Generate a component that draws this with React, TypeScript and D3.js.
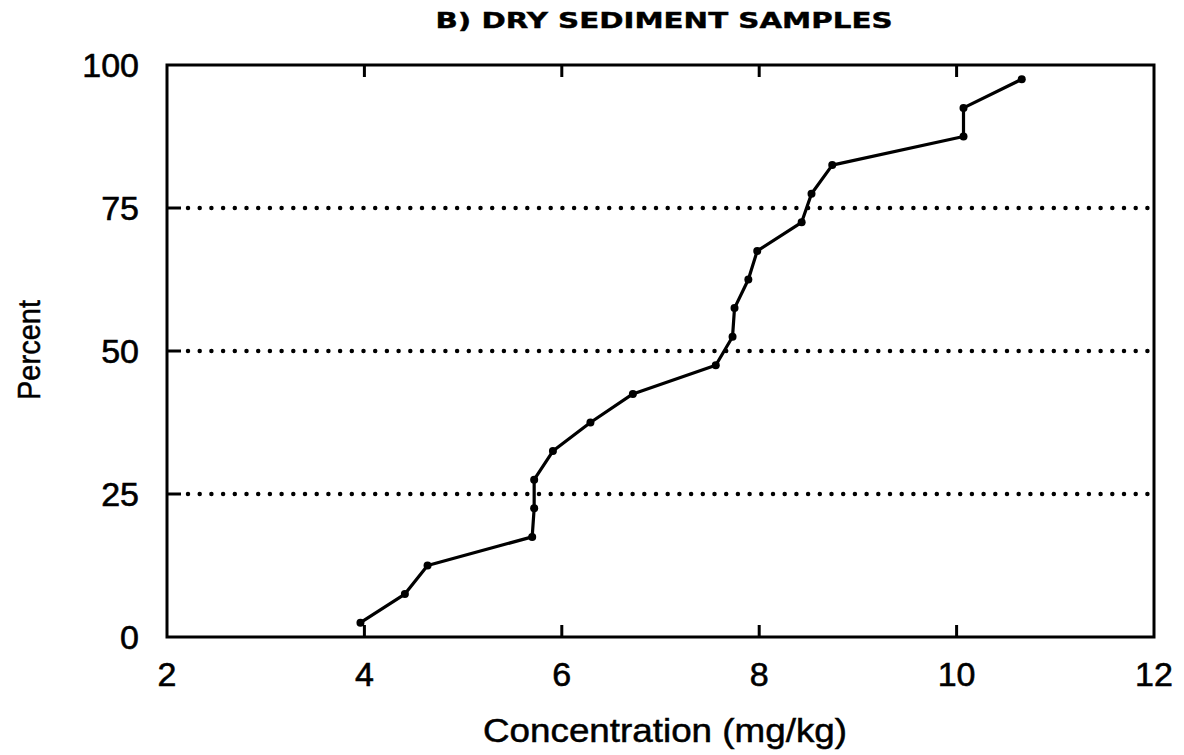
import React from "react";
import * as d3 from "d3";

const concentration = [3.96, 4.41, 4.64, 5.70, 5.72, 5.72, 5.91, 6.29, 6.72, 7.56, 7.73, 7.75, 7.89, 7.98, 8.43, 8.53, 8.74, 10.07, 10.07, 10.66];
const percent = [2.5, 7.5, 12.5, 17.5, 22.5, 27.5, 32.5, 37.5, 42.5, 47.5, 52.5, 57.5, 62.5, 67.5, 72.5, 77.5, 82.5, 87.5, 92.5, 97.5];
const xTicks = [2, 4, 6, 8, 10, 12];
const yTicks = [0, 25, 50, 75, 100];
const gridValues = [25, 50, 75];

const W = 1184, H = 755;
const L = 167, R = 1154, T = 65, B = 637;

export default function App() {
  const x = d3.scaleLinear().domain([2, 12]).range([L, R]);
  const y = d3.scaleLinear().domain([0, 100]).range([B, T]);
  const pts = concentration.map((c, i) => [c, percent[i]] as [number, number]);
  const line = d3.line<[number, number]>().x(d => x(d[0])).y(d => y(d[1]));
  const font = "'Liberation Sans', Arial, sans-serif";
  return (
    <svg width={W} height={H} style={{ position: "absolute", left: 0, top: 0, background: "#fff" }}>
      <rect width={W} height={H} fill="#fff" />
      <text x={664} y={28} textAnchor="middle" fontFamily="'DejaVu Sans', sans-serif" fontWeight="bold" fontSize={21} textLength={457} lengthAdjust="spacingAndGlyphs" stroke="#000" strokeWidth={0.4}>B)  DRY SEDIMENT SAMPLES</text>
      {gridValues.map(v => (
        <g key={v}>
          <line x1={L} x2={L + 14} y1={y(v)} y2={y(v)} stroke="#000" strokeWidth={3} />
          <line x1={L + 21} x2={R} y1={y(v)} y2={y(v)} stroke="#000" strokeWidth={4.5} strokeDasharray="0 11.7" strokeLinecap="round" />
        </g>
      ))}
      <rect x={L} y={T} width={R - L} height={B - T} fill="none" stroke="#000" strokeWidth={3} />
      {xTicks.slice(1, -1).map(v => (
        <g key={v}>
          <line x1={x(v)} x2={x(v)} y1={B} y2={B - 12} stroke="#000" strokeWidth={3} />
          <line x1={x(v)} x2={x(v)} y1={T} y2={T + 12} stroke="#000" strokeWidth={3} />
        </g>
      ))}
      {xTicks.map(v => (
        <text key={v} x={x(v)} y={686} textAnchor="middle" fontFamily={font} fontSize={34} stroke="#000" strokeWidth={0.6}>{v}</text>
      ))}
      {yTicks.map(v => (
        <text key={v} x={139} y={y(v) + 12} textAnchor="end" fontFamily={font} fontSize={34} stroke="#000" strokeWidth={0.6}>{v}</text>
      ))}
      <text transform={`translate(40,350) rotate(-90)`} textAnchor="middle" fontFamily={font} fontSize={31} textLength={100} lengthAdjust="spacingAndGlyphs" stroke="#000" strokeWidth={0.5}>Percent</text>
      <text x={665} y={742} textAnchor="middle" fontFamily={font} fontSize={33} textLength={364} lengthAdjust="spacingAndGlyphs" stroke="#000" strokeWidth={0.5}>Concentration (mg/kg)</text>
      <path d={line(pts) || ""} fill="none" stroke="#000" strokeWidth={3.2} strokeLinejoin="round" />
      {pts.map((p, i) => (
        <circle key={i} cx={x(p[0])} cy={y(p[1])} r={4} fill="#000" />
      ))}
    </svg>
  );
}
